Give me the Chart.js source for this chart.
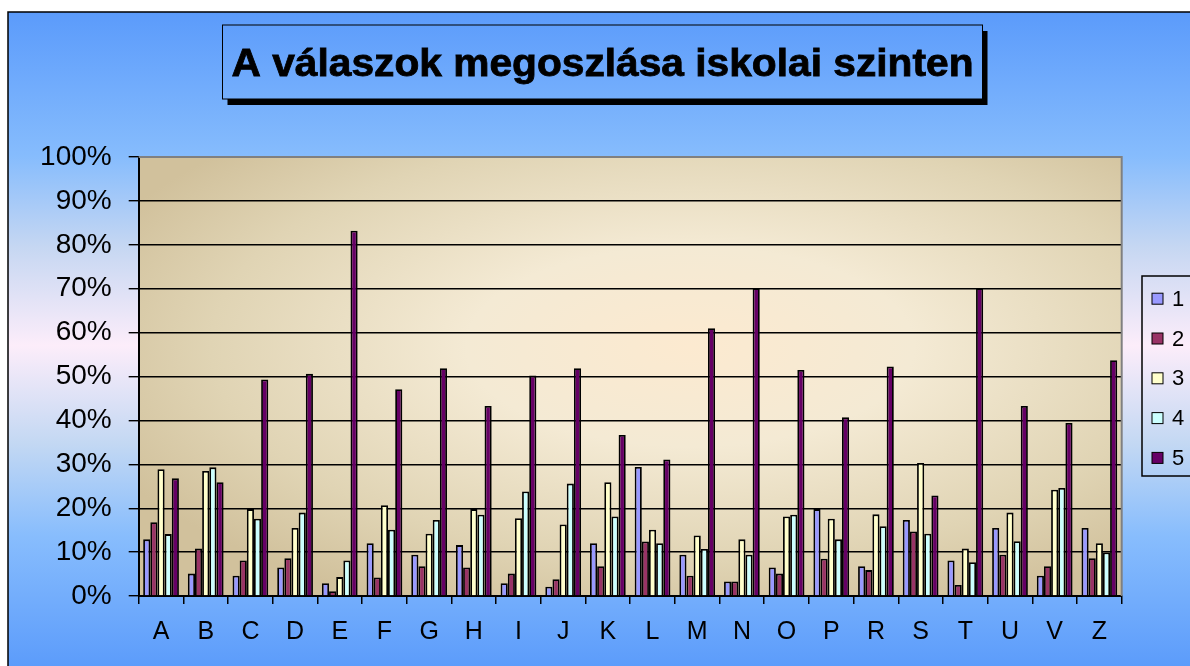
<!DOCTYPE html>
<html>
<head>
<meta charset="utf-8">
<script src="https://cdn.jsdelivr.net/npm/chart.js@4.4.1/dist/chart.umd.min.js"></script>
<style>
  html, body { margin: 0; padding: 0; background: #fff; }
  canvas { display: block; }
</style>
</head>
<body>
<canvas id="c" width="1190" height="666"></canvas>
<script>
const titleText = 'A válaszok megoszlása iskolai szinten';
const categories = ['A','B','C','D','E','F','G','H','I','J','K','L','M','N','O','P','R','S','T','U','V','Z'];
const seriesNames = ['1','2','3','4','5'];
const series1 = [12.9, 5.1, 4.6, 6.5, 2.9, 12.0, 9.4, 11.6, 2.9, 2.1, 12.0, 29.4, 9.4, 3.3, 6.5, 19.8, 6.8, 17.3, 8.1, 15.5, 4.6, 15.5];
const series2 = [16.8, 10.8, 8.1, 8.6, 1.1, 4.2, 6.8, 6.5, 5.1, 3.8, 6.8, 12.4, 4.6, 3.3, 5.1, 8.5, 5.9, 14.7, 2.5, 9.4, 6.8, 8.6];
const series3 = [28.9, 28.5, 19.8, 15.5, 4.3, 20.7, 14.2, 19.8, 17.7, 16.3, 25.9, 15.1, 13.8, 12.9, 18.1, 17.6, 18.6, 30.3, 10.8, 19.0, 24.2, 12.0];
const series4 = [14.1, 29.3, 17.6, 19.0, 8.1, 15.1, 17.3, 18.5, 23.8, 25.6, 18.1, 12.0, 10.7, 9.4, 18.5, 12.9, 15.9, 14.2, 7.7, 12.5, 24.6, 9.9];
const series5 = [26.8, 25.9, 49.3, 50.6, 83.2, 47.1, 51.9, 43.3, 50.2, 51.9, 36.7, 31.1, 61.0, 70.1, 51.5, 40.7, 52.3, 22.9, 70.1, 43.3, 39.4, 53.7];
const yTicks = [0, 10, 20, 30, 40, 50, 60, 70, 80, 90, 100];
const colors = ['#9999FF', '#993366', '#FFFFCC', '#CCFFFF', '#660066'];

const allSeries = [series1, series2, series3, series4, series5];
const FONT = '"Liberation Sans", Arial, sans-serif';

function bgGradient(ctx) {
  const g = ctx.createLinearGradient(0, 12, 0, 666);
  g.addColorStop(0.00, '#5b9bfb');
  g.addColorStop(0.22, '#86bcfd');
  g.addColorStop(0.36, '#c6d7f2');
  g.addColorStop(0.51, '#fcedfa');
  g.addColorStop(0.66, '#c3d8f3');
  g.addColorStop(0.80, '#88bdfd');
  g.addColorStop(1.00, '#5c9cfb');
  return g;
}

const decorPlugin = {
  id: 'decor',
  beforeDraw(chart) {
    const ctx = chart.ctx;
    const ca = chart.chartArea;
    ctx.save();
    ctx.fillStyle = '#ffffff';
    ctx.fillRect(0, 0, 1190, 666);
    ctx.fillStyle = bgGradient(ctx);
    ctx.fillRect(8, 12, 1190, 666);
    ctx.strokeStyle = '#000';
    ctx.lineWidth = 1.5;
    ctx.beginPath();
    ctx.moveTo(8, 670); ctx.lineTo(8, 12); ctx.lineTo(1195, 12);
    ctx.stroke();

    // plot area background
    const cx = (ca.left + ca.right) / 2 + 60, cy = (ca.top + ca.bottom) / 2 - 30;
    const w = (ca.right - ca.left) / 2, h = (ca.bottom - ca.top) / 2;
    ctx.save();
    ctx.beginPath();
    ctx.rect(ca.left, ca.top, ca.right - ca.left, ca.bottom - ca.top);
    ctx.clip();
    ctx.translate(cx, cy);
    ctx.scale(w, h);
    const rg = ctx.createRadialGradient(0, 0, 0, 0, 0, 1.3);
    rg.addColorStop(0, '#fcead0');
    rg.addColorStop(0.35, '#f4ead4');
    rg.addColorStop(0.75, '#e0d4b4');
    rg.addColorStop(1, '#d1c19c');
    ctx.fillStyle = rg;
    ctx.fillRect(-3, -3, 6, 6);
    ctx.restore();

    // title box with shadow
    const bx = 222.5, by = 25, bw = 760, bh = 74;
    ctx.fillStyle = '#000';
    ctx.fillRect(bx + 5, by + 6, bw, bh);
    ctx.fillStyle = bgGradient(ctx);
    ctx.fillRect(bx, by, bw, bh);
    ctx.strokeStyle = '#000';
    ctx.lineWidth = 1;
    ctx.strokeRect(bx, by, bw, bh);
    ctx.font = 'bold 38px ' + FONT;
    ctx.textAlign = 'center';
    ctx.textBaseline = 'alphabetic';
    ctx.fillStyle = '#000';
    ctx.strokeStyle = '#000';
    ctx.lineWidth = 0.8;
    const tw = ctx.measureText(titleText).width;
    const target = 742;
    ctx.save();
    ctx.translate(bx + bw / 2, 76);
    ctx.scale(target / tw, 1);
    ctx.fillText(titleText, 0, 0);
    ctx.strokeText(titleText, 0, 0);
    ctx.restore();
    ctx.restore();
  },
  beforeDatasetsDraw(chart) {
    const ctx = chart.ctx;
    const ca = chart.chartArea;
    ctx.save();
    ctx.strokeStyle = '#808080';
    ctx.lineWidth = 2;
    ctx.beginPath();
    ctx.moveTo(ca.left, ca.top);
    ctx.lineTo(ca.right, ca.top);
    ctx.lineTo(ca.right, ca.bottom);
    ctx.stroke();
    ctx.restore();
  },
  afterDraw(chart) {
    const ctx = chart.ctx;
    ctx.save();
    // legend
    const lx = 1142, ly = 276, lh = 200;
    ctx.strokeStyle = '#000';
    ctx.lineWidth = 1.5;
    ctx.strokeRect(lx, ly, 80, lh);
    ctx.font = '22px ' + FONT;
    ctx.textAlign = 'left';
    ctx.textBaseline = 'middle';
    chart.data.datasets.forEach((ds, i) => {
      const yc = 298.7 + i * 39.8;
      ctx.fillStyle = ds.backgroundColor;
      ctx.fillRect(1152, yc - 5.5, 11, 11);
      ctx.strokeStyle = '#000';
      ctx.lineWidth = 1;
      ctx.strokeRect(1152, yc - 5.5, 11, 11);
      ctx.fillStyle = '#000';
      ctx.fillText(ds.label, 1172, yc + 1);
    });
    ctx.restore();
  }
};

const datasets = allSeries.map((vals, i) => ({
  label: seriesNames[i],
  data: vals,
  backgroundColor: colors[i],
  borderColor: '#000',
  borderWidth: 1.8,
  categoryPercentage: 0.8,
  barPercentage: 1.0
}));

new Chart(document.getElementById('c'), {
  type: 'bar',
  data: { labels: categories, datasets },
  options: {
    responsive: false,
    animation: false,
    events: [],
    layout: { padding: { left: 0, top: 157, right: 68.3, bottom: 0 } },
    plugins: { legend: { display: false }, title: { display: false }, tooltip: { enabled: false } },
    scales: {
      x: {
        grid: { offset: true, drawOnChartArea: false, drawTicks: true, tickLength: 8, color: '#000', lineWidth: 1.5 },
        border: { display: true, color: '#000', width: 2 },
        ticks: { color: '#000', font: { family: FONT, size: 25 }, padding: 13, maxRotation: 0, autoSkip: false },
        afterFit(scale) { scale.height = 70; }
      },
      y: {
        min: 0, max: 100,
        afterBuildTicks(scale) { scale.ticks = yTicks.map(v => ({ value: v })); },
        grid: { color: '#000', lineWidth: 1.4, drawTicks: true, tickLength: 10, tickColor: '#000' },
        border: { display: true, color: '#000', width: 2 },
        ticks: { color: '#000', font: { family: FONT, size: 28 }, padding: 17, callback: v => v + '%' },
        afterFit(scale) { scale.width = 138.7; }
      }
    }
  },
  plugins: [decorPlugin]
});
</script>
</body>
</html>
